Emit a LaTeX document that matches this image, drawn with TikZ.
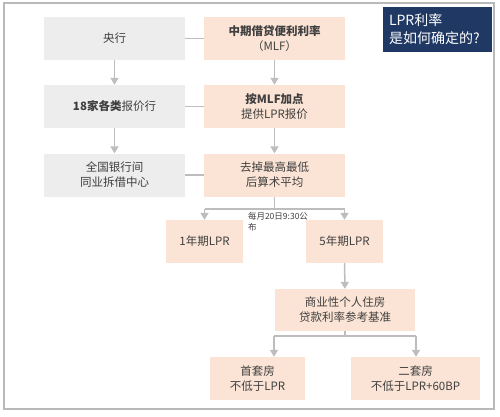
\documentclass[tikz,border=0pt]{standalone}
\usepackage{fontspec}
\setmainfont{Noto Sans CJK SC}
\usetikzlibrary{arrows.meta}
\definecolor{boxgray}{HTML}{EDEDED}
\definecolor{boxpeach}{HTML}{FBE4D5}
\definecolor{asknavy}{HTML}{1F3864}
\definecolor{linkgray}{HTML}{BDBDBD}
\definecolor{txtgray}{HTML}{3F3F3F}
\begin{document}
\begin{tikzpicture}[x=1pt, y=1pt]
\tikzset{flowbox/.style={shape=rectangle, inner sep=0pt, align=center, text=txtgray, font=\fontsize{11.5}{15}\selectfont}}
\tikzset{graybox/.style={flowbox, fill=boxgray, minimum width=141pt, minimum height=43pt}}
\tikzset{peachbox/.style={flowbox, fill=boxpeach, minimum height=43pt}}
\tikzset{link/.style={draw=linkgray, line width=1.5pt}}
\tikzset{linkarr/.style={link, -{Triangle[width=8pt, length=7pt]}}}
\useasboundingbox (0,0) rectangle (500,416);
% frame
\draw[gray!55, line width=1.2pt] (4,7) rectangle (494,413);
% title
\node (ask) [shape=rectangle, fill=asknavy, minimum width=109pt, minimum height=45pt, inner sep=0pt,
  text=white, align=left, text width=97pt, font=\fontsize{14}{18}\selectfont] at (437.5,386.5) {LPR利率\\是如何确定的?};
% left column
\node (cb)     [graybox]                        at (114.5,377.5) {央行};
\node (banks)  [graybox]                        at (114.5,309.5) {\textbf{18家各类}报价行};
\node (center) [graybox]                        at (114.5,241.0) {全国银行间\\同业拆借中心};
% right column
\node (mlf)    [peachbox, minimum width=141pt]  at (274.5,377.5) {\textbf{中期借贷便利利率}\\（MLF）};
\node (quote)  [peachbox, minimum width=141pt]  at (274.5,309.5) {\textbf{按MLF加点}\\提供LPR报价};
\node (avg)    [peachbox, minimum width=141pt]  at (274.5,241.0) {去掉最高最低\\后算术平均};
% terms
\node (lpr1)   [peachbox, minimum width=77pt]   at (204.5,174.5) {1年期LPR};
\node (lpr5)   [peachbox, minimum width=77pt]   at (344.5,174.5) {5年期LPR};
\node (pub)    [text=txtgray, align=left, font=\fontsize{8.5}{11}\selectfont, inner sep=0pt] at (278,194) {每月20日9:30公\\布};
% mortgages
\node (mort)   [peachbox, minimum width=140pt, minimum height=42pt] at (345,106) {商业性个人住房\\贷款利率参考基准};
\node (first)  [peachbox, minimum width=95pt]   at (257.5,37.5) {首套房\\不低于LPR};
\node (second) [peachbox, minimum width=129pt]  at (415.5,37.5) {二套房\\不低于LPR+60BP};
% joints
\coordinate (tj)  at (274.5,207);
\coordinate (tjl) at (204.5,207);
\coordinate (tjr) at (344.5,207);
\coordinate (mj)  at (345,80);
\coordinate (mjl) at (274,80);
\coordinate (mjr) at (416,80);
% associations
\draw[link]    (cb) -- (mlf);
\draw[link]    (banks) -- (quote);
\draw[link]    (center) -- (avg);
\draw[linkarr] (cb) -- (banks);
\draw[linkarr] (banks) -- (center);
\draw[linkarr] (mlf) -- (quote);
\draw[linkarr] (quote) -- (avg);
\draw[link]    (avg) -- (tj);
\draw[link]    (tjl) -- (tjr);
\draw[linkarr] (tjl) -- (lpr1);
\draw[linkarr] (tjr) -- (lpr5);
\draw[linkarr] (lpr5) -- (mort);
\draw[link]    (mort) -- (mj);
\draw[link]    (mjl) -- (mjr);
\draw[linkarr] (mjl) -- (mjl |- first.north);
\draw[linkarr] (mjr) -- (mjr |- second.north);
\end{tikzpicture}
\end{document}
